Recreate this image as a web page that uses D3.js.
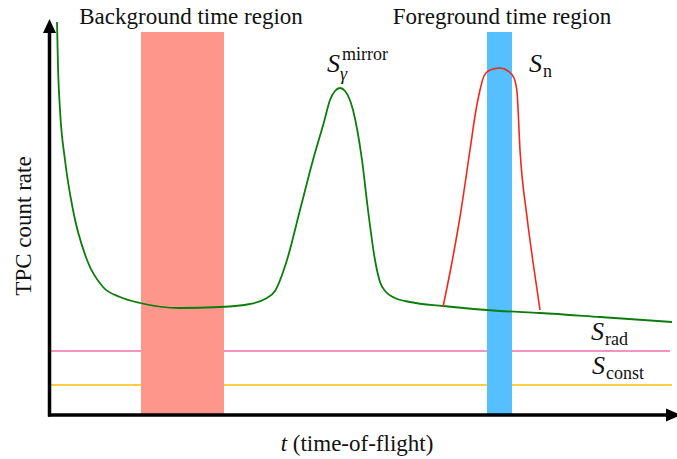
<!DOCTYPE html>
<head>
  <meta charset="utf-8" />
  <script src="https://cdn.jsdelivr.net/npm/d3@7"></script>
  <style>
    body { margin: 0; background: #fff; }
    svg text { font-family: "Times New Roman", "Liberation Serif", serif; }
  </style>
</head>
<body>
  <svg class="chart" width="677" height="459" font-family="Liberation Serif"></svg>
  <script>
    // arbitrary units: t along the time-of-flight axis, c = count rate
    const greenT = [9, 10, 12, 17, 25, 39, 55, 72, 92, 132, 172, 202, 217, 227, 239, 252, 265, 276, 282, 287, 292, 297, 305, 314, 320, 327, 332, 338, 347, 362, 395, 452, 492, 552, 624];
    const greenC = [392, 347, 304, 254, 204, 154, 127, 117, 111, 106, 107, 110, 115, 123, 154, 204, 254, 292, 314, 323, 326, 323, 304, 254, 204, 154, 132, 122, 116, 112, 108, 103, 101, 97, 92];

    const neutronT = [395, 404, 412, 422, 428, 432, 436, 442, 452, 460, 466, 469, 472, 479, 485, 492];
    const neutronC = [107, 152, 197, 264, 304, 324, 338, 344, 346, 343, 336, 322, 264, 197, 152, 104];

    const radLevel = 63;
    const constLevel = 29;
    const bgRegion = [93, 176];
    const fgRegion = [439, 464];
    const regionTop = 382;

    const svg = d3.select(".chart");
    const x = d3.scaleLinear().domain([0, 630]).range([48, 678]);
    const y = d3.scaleLinear().domain([0, 394]).range([414, 20]);

    const greenData = greenT.map((t, i) => ({ t, c: greenC[i] }));
    const neutronData = neutronT.map((t, i) => ({ t, c: neutronC[i] }));

    // flat components
    svg.append("line")
      .attr("x1", x(0)).attr("x2", x(622))
      .attr("y1", y(radLevel)).attr("y2", y(radLevel))
      .attr("stroke", "#ef6fae").attr("stroke-width", 1.5);
    svg.append("line")
      .attr("x1", x(2)).attr("x2", x(624))
      .attr("y1", y(constLevel)).attr("y2", y(constLevel))
      .attr("stroke", "#ffbf00").attr("stroke-width", 1.5);

    // time regions
    svg.append("rect")
      .attr("x", x(bgRegion[0])).attr("width", x(bgRegion[1]) - x(bgRegion[0]))
      .attr("y", y(regionTop)).attr("height", y(0) - y(regionTop))
      .attr("fill", "#fe968c");
    svg.append("rect")
      .attr("x", x(fgRegion[0])).attr("width", x(fgRegion[1]) - x(fgRegion[0]))
      .attr("y", y(regionTop)).attr("height", y(0) - y(regionTop))
      .attr("fill", "#56bfff");

    const line = d3.line().x((d) => x(d.t)).y((d) => y(d.c)).curve(d3.curveMonotoneX);

    svg.append("path").datum(greenData)
      .attr("d", line).attr("fill", "none")
      .attr("stroke", "#0a7d0a").attr("stroke-width", 1.8);
    svg.append("path").datum(neutronData)
      .attr("d", line).attr("fill", "none")
      .attr("stroke", "#f0281c").attr("stroke-width", 1.6);

    // axes with arrow heads
    const x0 = x(0) + 1.5, y0 = y(0) + 1;
    svg.append("line")
      .attr("x1", x0).attr("x2", x0).attr("y1", y0 + 1.5).attr("y2", 30)
      .attr("stroke", "#000").attr("stroke-width", 3.5);
    svg.append("line")
      .attr("x1", x0 - 1.5).attr("x2", 668).attr("y1", y0).attr("y2", y0)
      .attr("stroke", "#000").attr("stroke-width", 3.5);
    svg.append("path")
      .attr("d", `M${x0 - 6.5},33 L${x0},19 L${x0 + 6.5},33 Z`)
      .attr("fill", "#000");
    svg.append("path")
      .attr("d", `M666,${y0 - 6.5} L681,${y0} L666,${y0 + 6.5} Z`)
      .attr("fill", "#000");

    // labels
    const label = (sel) => sel.attr("font-family", "Times New Roman").attr("fill", "#111");
    label(svg.append("text")).attr("x", 191).attr("y", 24).attr("text-anchor", "middle")
      .attr("font-size", 23).text("Background time region");
    label(svg.append("text")).attr("x", 502).attr("y", 24).attr("text-anchor", "middle")
      .attr("font-size", 23).text("Foreground time region");

    label(svg.append("text")).attr("transform", "translate(31,226) rotate(-90)")
      .attr("text-anchor", "middle").attr("font-size", 23).text("TPC count rate");

    const xl = label(svg.append("text")).attr("x", 357).attr("y", 451)
      .attr("text-anchor", "middle").attr("font-size", 23);
    xl.append("tspan").attr("font-style", "italic").text("t");
    xl.append("tspan").text(" (time-of-flight)");

    const sym = (px, py, sub, sup) => {
      const g = label(svg.append("text")).attr("x", px).attr("y", py).attr("font-size", 26);
      g.append("tspan").attr("font-style", "italic").text("S");
      if (sup) {
        g.append("tspan").attr("font-size", 18).attr("dx", 2).attr("dy", -12).text(sup);
        g.append("tspan").attr("font-size", 18).attr("font-style", "italic")
          .attr("x", px + 13).attr("dy", 20).text(sub);
      } else {
        g.append("tspan").attr("font-size", 18).attr("dx", 1).attr("dy", 5).text(sub);
      }
    };
    sym(327, 72, "γ", "mirror");
    sym(529, 72, "n");
    sym(591, 340, "rad");
    sym(592, 374, "const");
  </script>
</body>
